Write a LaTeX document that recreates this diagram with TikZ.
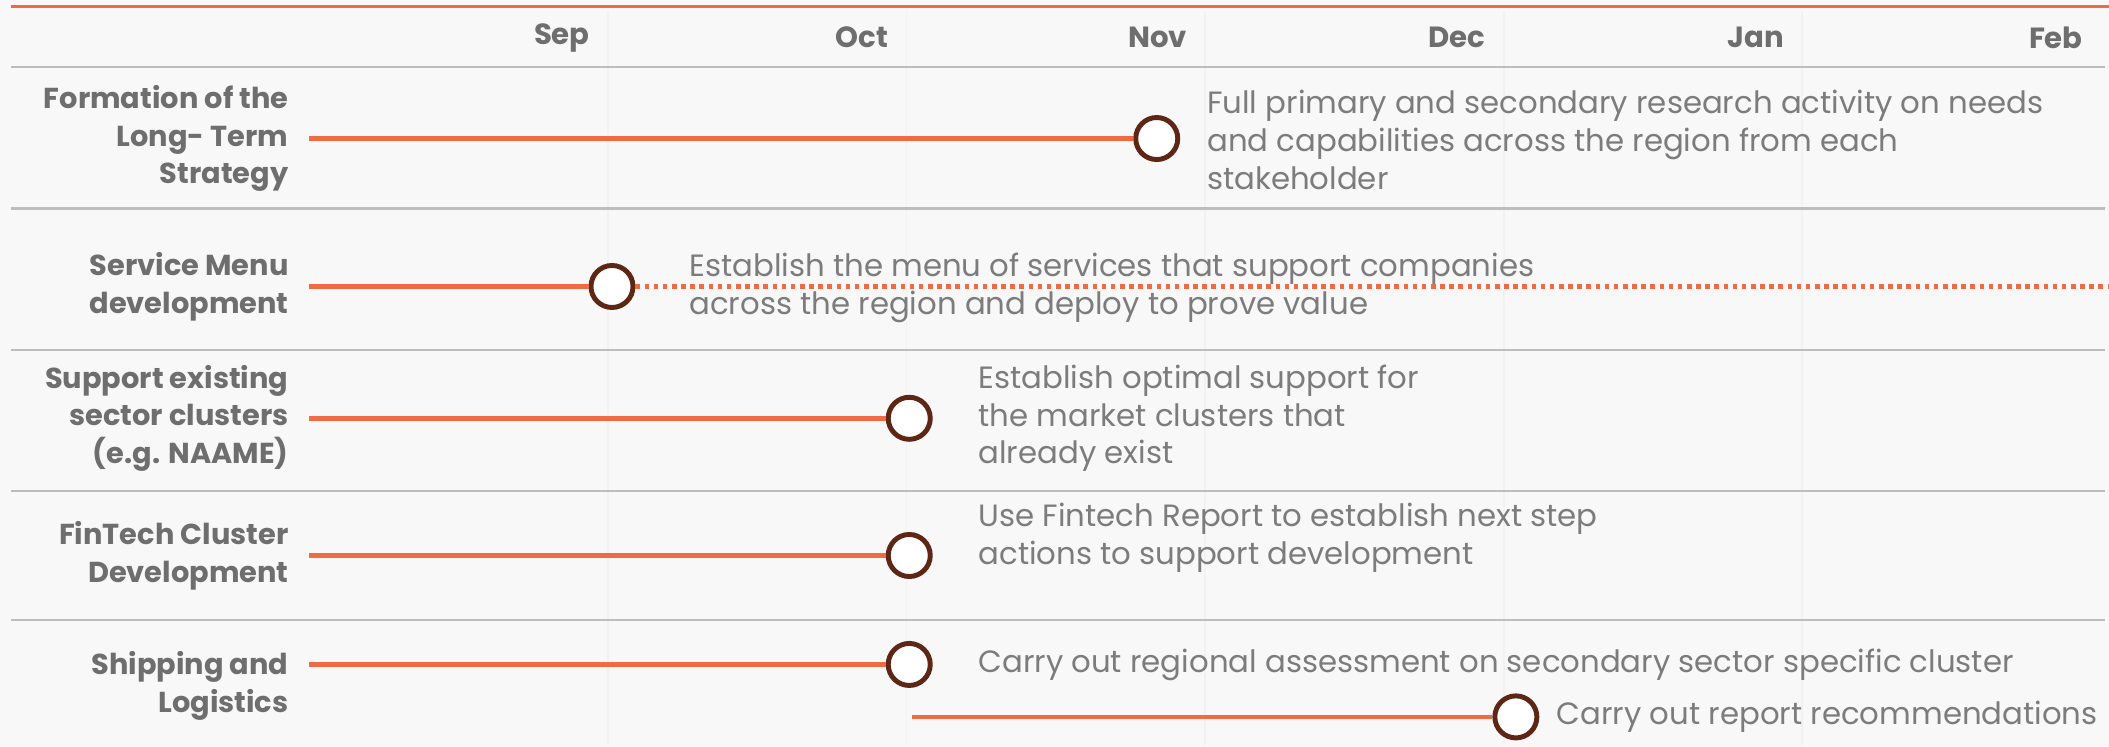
\documentclass[tikz,border=0pt]{standalone}
\usepackage{fontspec}
\setmainfont{Poppins}
\usetikzlibrary{positioning}

\definecolor{tlorange}{HTML}{F06A43}
\definecolor{tlbrown}{HTML}{5E2614}
\definecolor{tlrule}{HTML}{BDBDBD}
\definecolor{tlcol}{HTML}{F2F2F2}
\definecolor{tllabel}{HTML}{6E6E6E}
\definecolor{tltext}{HTML}{7C7C7C}
\definecolor{tlback}{HTML}{F8F8F8}

\tikzset{
 bar/.style={color=tlorange, line width=1.3pt},
 milestone/.style={circle, draw=tlbrown, fill=white, line width=1.4pt, minimum size=0.42cm, inner sep=0pt},
 rowlabel/.style={anchor=east, align=right, inner sep=0pt, text=tllabel, font=\fontsize{8.2}{10.7}\selectfont\bfseries},
 month/.style={anchor=east, inner sep=0pt, text=tllabel, font=\fontsize{8.3}{10}\selectfont\bfseries},
 desc/.style={anchor=west, align=left, inner sep=0pt, text=tltext, font=\fontsize{8.75}{10.7}\selectfont},
}

\begin{document}
\begin{tikzpicture}[x=0.01345cm, y=-0.01345cm]
\fill[tlback] (0,0) rectangle (1568,555);
\useasboundingbox (0,0) rectangle (1568,555);

% columns and rules
\foreach \i in {0,...,4}
 \draw[tlcol, line width=0.5pt] (452+222*\i,8) -- (452+222*\i,555);
\draw[tlorange, line width=0.9pt] (8,5) -- (1568,5);
\foreach \y in {50,155,260,365,461}
 \draw[tlrule, line width=0.6pt] (8,\y) -- (1565,\y);

% months
\foreach \m [count=\i] in {Sep,Oct,Nov,Dec,Jan,Feb}
 \node[month] (\m) at (217+222*\i,28) {\m};

% row labels
\node[rowlabel] (lstrategy) at (215,103) {Formation of the\\Long- Term\\Strategy};
\node[rowlabel] (lmenu) at (215,213) {Service Menu\\development};
\node[rowlabel] (lclusters) at (215,311) {Support existing\\sector clusters\\(e.g. NAAME)};
\node[rowlabel] (lfintech) at (215,413) {FinTech Cluster\\Development};
\node[rowlabel] (lshipping) at (215,510) {Shipping and\\Logistics};

% milestones
\node[milestone] (mstrategy) at (860,103) {};
\node[milestone] (mmenu) at (455,213) {};
\node[milestone] (mclusters) at (676,311) {};
\node[milestone] (mfintech) at (676,413) {};
\node[milestone] (mshipping) at (676,494) {};
\node[milestone] (mreport) at (1127,533) {};

\coordinate (sstrategy) at (230,103);
\coordinate (smenu) at (230,213);
\coordinate (emenu) at (1568,213);
\coordinate (sclusters) at (230,311);
\coordinate (sfintech) at (230,413);
\coordinate (sshipping) at (230,494);
\coordinate (sreport) at (678,533);

\draw[bar] (sstrategy) -- (mstrategy);
\draw[bar] (smenu) -- (mmenu);
\draw[bar, dash pattern=on 1.3pt off 1.3pt] (mmenu) -- (emenu);
\draw[bar] (sclusters) -- (mclusters);
\draw[bar] (sfintech) -- (mfintech);
\draw[bar] (sshipping) -- (mshipping);
\draw[bar] (sreport) -- (mreport);

% descriptions
\node[desc] (dstrategy) at (897,104) {Full primary and secondary research activity on needs\\and capabilities across the region from each\\stakeholder};
\node[desc] (dmenu) at (512,214) {Establish the menu of services that support companies\\across the region and deploy to prove value};
\node[desc] (dclusters) at (727,311) {Establish optimal support for\\the market clusters that\\already exist};
\node[desc] (dfintech) at (727,400) {Use Fintech Report to establish next step\\actions to support development};
\node[desc] (dshipping) at (727,494) {Carry out regional assessment on secondary sector specific cluster};
\node[desc] (dreport) at (1157,533) {Carry out report recommendations};
\end{tikzpicture}
\end{document}
